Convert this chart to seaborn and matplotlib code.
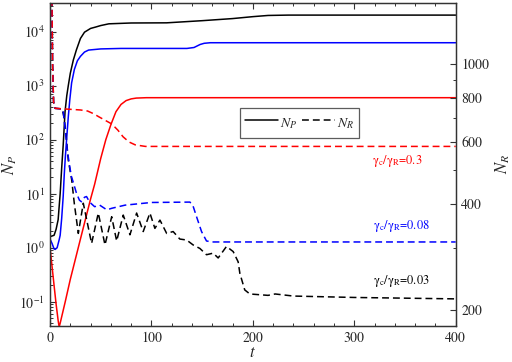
import matplotlib
matplotlib.use("Agg")
import matplotlib.pyplot as plt
import matplotlib.ticker as mticker
from matplotlib.lines import Line2D
import seaborn as sns

# -------------------------
# N_P (solid lines, left log axis)
# -------------------------
t_p_black = [0, 4, 6, 8, 10, 11.5, 13, 14.8, 16.5, 18, 20, 23, 26, 30, 34, 40, 45, 50, 58, 80,
             115, 150, 180, 200, 215, 235, 400]
np_black = [1.6, 1.7, 2.2, 3.3, 10, 30, 80, 330, 650, 1000, 1700, 3000, 4600, 7500, 9800,
            11500, 12200, 13000, 14000, 14500, 14600, 16000, 17500, 19000, 20000, 20300, 20300]

t_p_blue = [0, 2, 4, 5, 7, 9, 10, 11.5, 13, 14, 15, 16.5, 18, 19.5, 21.3, 24, 27, 30, 34, 38,
            50, 70, 135, 142, 148, 152, 158, 400]
np_blue = [1.45, 1.2, 0.95, 0.93, 1.0, 1.4, 1.7, 3.5, 9, 22, 45, 110, 263, 550, 1130, 2000,
           2900, 3500, 4200, 4570, 4800, 4900, 4900, 5100, 5800, 6100, 6250, 6250]

t_p_red = [0, 2, 4, 6, 8, 9, 10, 15, 20, 30, 40, 44, 50, 55, 60, 65, 70, 75, 80, 85, 95, 400]
np_red = [1.0, 0.45, 0.2, 0.09, 0.045, 0.034, 0.04, 0.1, 0.26, 1.45, 8.0, 15, 45, 100, 190,
          330, 450, 530, 570, 590, 600, 600]

# -------------------------
# N_R (dashed lines, right log axis)
# -------------------------
t_r_black = [0, 1.5, 2.5, 3.5, 5, 12, 14, 16, 18, 21.4, 24, 27.9, 32.8, 41, 47.6, 54.2, 60.8,
             65.7, 72.2, 78.8, 85.4, 91.9, 98.5, 103.4, 108.4, 115, 121.4, 128, 134.7, 141.1,
             147.8, 154.3, 160.9, 165.8, 174, 180.6, 185.5, 187.2, 192, 197, 215, 222, 240,
             300, 400]
nr_black = [20000, 2000, 1000, 780, 748, 745, 700, 620, 533, 468, 400, 330, 402, 309, 377, 306,
            368, 314, 372, 327, 377, 334, 377, 341, 360, 330, 334, 318, 316, 306, 299, 287, 290,
            281, 303, 293, 274, 254, 228, 222, 220, 222, 219, 217, 215]

t_r_blue = [0, 1.5, 2.5, 3.5, 5, 12, 13, 15, 17, 19, 21, 23, 26, 29, 31, 34, 36, 39, 44, 49,
            56, 61, 74, 100, 138, 141, 144.5, 149.4, 154.3, 160, 400]
nr_blue = [20000, 2000, 1000, 780, 748, 745, 735, 650, 570, 520, 480, 460, 430, 410, 406, 418,
           420, 405, 393, 397, 385, 389, 397, 404, 405, 395, 368, 334, 314, 312, 312]

t_r_red = [0, 1.5, 2.5, 3.5, 5, 30, 37, 43, 48, 55, 61, 67, 72, 78, 84, 94, 400]
nr_red = [20000, 2000, 1000, 780, 748, 740, 735, 722, 708, 690, 675, 648, 621, 600, 589, 583, 583]

ratio_labels = ["0.03", "0.08", "0.3"]
colors = ["black", "blue", "red"]

sns.set_style("ticks")
plt.rcParams['font.family'] = ['TeX Gyre Termes', 'STIXGeneral', 'DejaVu Serif']
plt.rcParams['mathtext.fontset'] = 'stix'

fig, ax = plt.subplots(figsize=(5.12, 3.62), dpi=100)
fig.subplots_adjust(left=0.0977, right=0.890, top=0.9917, bottom=0.1003)
ax2 = ax.twinx()

lw = 1.1
dash = (0, (4.5, 2.6))

# solid lines: N_P
for tt, yy, c in zip([t_p_black, t_p_blue, t_p_red], [np_black, np_blue, np_red], colors):
    sns.lineplot(x=tt, y=yy, ax=ax, color=c, linewidth=lw, estimator=None, sort=False)

# dashed lines: N_R
for tt, yy, c in zip([t_r_black, t_r_blue, t_r_red], [nr_black, nr_blue, nr_red], colors):
    sns.lineplot(x=tt, y=yy, ax=ax2, color=c, linewidth=lw, linestyle=dash,
                 estimator=None, sort=False)

# left axis
ax.set_yscale('log')
ax.set_xlim(0, 400)
ax.set_ylim(0.036, 34000)
ax.yaxis.set_major_locator(mticker.LogLocator(base=10, numticks=10))
ax.yaxis.set_minor_locator(mticker.LogLocator(base=10, subs=range(2, 10), numticks=20))
ax.yaxis.set_minor_formatter(mticker.NullFormatter())
ax.xaxis.set_major_locator(mticker.MultipleLocator(100))
ax.xaxis.set_minor_locator(mticker.MultipleLocator(20))

# right axis
ax2.set_yscale('log')
ax2.set_ylim(180.4, 1490)
ax2.yaxis.set_major_locator(mticker.FixedLocator([200, 400, 600, 800, 1000]))
ax2.yaxis.set_major_formatter(mticker.FuncFormatter(lambda v, p: f"{v:.0f}"))
ax2.yaxis.set_minor_locator(mticker.FixedLocator([300, 500, 700, 900]))
ax2.yaxis.set_minor_formatter(mticker.NullFormatter())
ax2.xaxis.label.set_visible(False)

ax.tick_params(axis='both', which='both', direction='in', top=True, right=False,
               labelsize=10, pad=4, color='#333333')
ax.tick_params(which='major', length=4, width=0.8)
ax.tick_params(which='minor', length=2.2, width=0.7)
ax2.tick_params(axis='y', which='both', direction='in', labelsize=10, pad=4, color='#333333')
ax2.tick_params(which='major', length=4, width=0.8)
ax2.tick_params(which='minor', length=2.2, width=0.7)

for a in (ax, ax2):
    for s in a.spines.values():
        s.set_visible(True)
        s.set_linewidth(0.9)
        s.set_color('#333333')

ax.set_xlabel(r'$t$', fontsize=12, labelpad=0)
ax.set_ylabel(r'$N_P$', fontsize=12, labelpad=0)
ax2.set_ylabel(r'$N_R$', fontsize=12, labelpad=3)

# legend
handles = [Line2D([], [], color='black', linewidth=lw),
           Line2D([], [], color='black', linewidth=lw, linestyle=dash)]
leg = ax2.legend(handles, [r'$N_P$', r'$N_R$'], ncol=2, loc='center',
                 bbox_to_anchor=(0.615, 0.628), fontsize=10, frameon=True, fancybox=False,
                 handlelength=2.4, handleheight=1.8, handletextpad=0.1, columnspacing=0.35,
                 borderpad=0.35, edgecolor='#333333')
leg.get_frame().set_linewidth(0.9)

# ratio annotations
label_pos = [(0.866, 0.14), (0.866, 0.31), (0.856, 0.51)]
for r, c, (px, py) in zip(ratio_labels, colors, label_pos):
    ax2.text(px, py, r'$\mathrm{\gamma_c/\gamma_R}$=' + r, color=c, fontsize=9,
             ha='center', va='center', transform=ax2.transAxes)

plt.savefig("out.png", dpi=100)
